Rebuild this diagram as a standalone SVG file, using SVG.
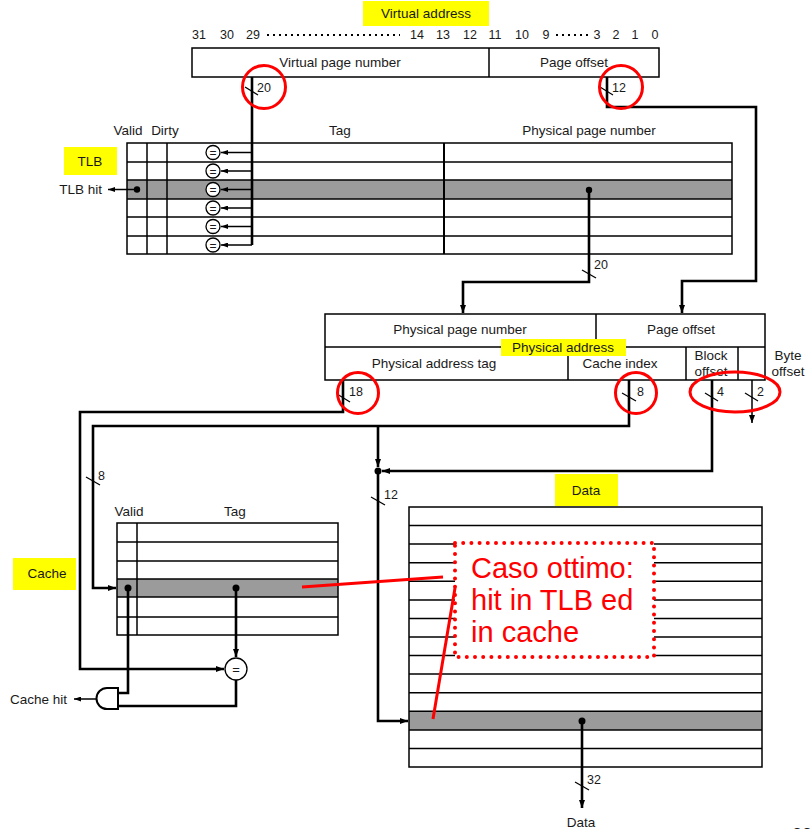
<svg xmlns="http://www.w3.org/2000/svg" width="810" height="829" viewBox="0 0 810 829">
<style>
text{font-family:"Liberation Sans",Arial,sans-serif;fill:#1a1a1a;font-size:13.5px}
.m{text-anchor:middle}
.e{text-anchor:end}
.n{font-size:12.5px}
.t{fill:none;stroke:#000;stroke-width:1.5}
.tb{fill:none;stroke:#000;stroke-width:2}
.w{fill:none;stroke:#000;stroke-width:2.6}
.wt{fill:none;stroke:#000;stroke-width:1.5}
.sl{stroke:#000;stroke-width:1.3}
.gray{fill:#9b9b9b}
.yl{fill:#ffff00}
.rc{fill:none;stroke:#ff0000;stroke-width:3}
.eq{fill:#fff;stroke:#000;stroke-width:1.3}
.red{fill:#ff0000;font-size:29px}
</style>
<defs>
<marker id="ah" viewBox="0 0 8 6" refX="8" refY="3" markerWidth="8" markerHeight="6" markerUnits="userSpaceOnUse" orient="auto"><path d="M0,0 L8,3 L0,6 z" fill="#000"/></marker>
<marker id="as" viewBox="0 0 7 5" refX="7" refY="2.5" markerWidth="7" markerHeight="5" markerUnits="userSpaceOnUse" orient="auto"><path d="M0,0 L7,2.5 L0,5 z" fill="#000"/></marker>
</defs>
<rect width="810" height="829" fill="#fff"/>

<g id="virtual-address">
<rect class="yl" x="363" y="1" width="126" height="25"/>
<text class="m" x="426" y="18">Virtual address</text>
<g class="n">
<text class="m n" x="199" y="39">31</text>
<text class="m n" x="227" y="39">30</text>
<text class="m n" x="253" y="39">29</text>
<text class="m n" x="417" y="39">14</text>
<text class="m n" x="443" y="39">13</text>
<text class="m n" x="470" y="39">12</text>
<text class="m n" x="495" y="39">11</text>
<text class="m n" x="522" y="39">10</text>
<text class="m n" x="546" y="39">9</text>
<text class="m n" x="597" y="39">3</text>
<text class="m n" x="616" y="39">2</text>
<text class="m n" x="635" y="39">1</text>
<text class="m n" x="655" y="39">0</text>
</g>
<line x1="267" y1="35" x2="400" y2="35" stroke="#000" stroke-width="2" stroke-dasharray="2 4"/>
<line x1="556" y1="35" x2="588" y2="35" stroke="#000" stroke-width="2" stroke-dasharray="2 4"/>
<rect class="t" x="192" y="48" width="467" height="29"/>
<line class="t" x1="489" y1="48" x2="489" y2="77"/>
<text class="m" x="340" y="67">Virtual page number</text>
<text class="m" x="574" y="67">Page offset</text>
</g>

<g id="tlb">
<rect class="gray" x="127" y="180" width="605" height="19"/>
<rect class="t" x="127" y="143" width="605" height="111"/>
<line class="t" x1="127" y1="162" x2="732" y2="162"/>
<line class="t" x1="127" y1="180" x2="732" y2="180"/>
<line class="t" x1="127" y1="199" x2="732" y2="199"/>
<line class="t" x1="127" y1="217" x2="732" y2="217"/>
<line class="t" x1="127" y1="236" x2="732" y2="236"/>
<line class="t" x1="147" y1="143" x2="147" y2="254"/>
<line class="t" x1="167" y1="143" x2="167" y2="254"/>
<line class="tb" x1="444" y1="143" x2="444" y2="254"/>
<text class="m" x="128" y="135">Valid</text>
<text class="m" x="165" y="135">Dirty</text>
<text class="m" x="340" y="135">Tag</text>
<text class="m" x="589" y="135">Physical page number</text>
<rect class="yl" x="64" y="147" width="53" height="28"/>
<text class="m" x="90" y="166">TLB</text>
<text class="e" x="102" y="194">TLB hit</text>
<g id="tlb-comparators">
<circle class="eq" cx="213" cy="152.5" r="7"/><text class="m" x="213" y="157" style="font-size:12px">=</text>
<circle class="eq" cx="213" cy="171" r="7"/><text class="m" x="213" y="175.5" style="font-size:12px">=</text>
<circle class="eq" cx="213" cy="189.5" r="7"/><text class="m" x="213" y="194" style="font-size:12px">=</text>
<circle class="eq" cx="213" cy="208" r="7"/><text class="m" x="213" y="212.5" style="font-size:12px">=</text>
<circle class="eq" cx="213" cy="226.5" r="7"/><text class="m" x="213" y="231" style="font-size:12px">=</text>
<circle class="eq" cx="213" cy="245" r="7"/><text class="m" x="213" y="249.5" style="font-size:12px">=</text>
</g>
<circle cx="137" cy="189.5" r="3.2" fill="#000"/>
<circle cx="589" cy="190" r="3.2" fill="#000"/>
</g>

<g id="physical-address">
<rect class="t" x="325" y="314" width="440" height="66"/>
<line class="t" x1="325" y1="347" x2="765" y2="347"/>
<line class="t" x1="596" y1="314" x2="596" y2="347"/>
<line class="t" x1="568" y1="347" x2="568" y2="380"/>
<line class="t" x1="686" y1="347" x2="686" y2="380"/>
<line class="t" x1="738" y1="347" x2="738" y2="380"/>
<text class="m" x="460" y="334">Physical page number</text>
<text class="m" x="681" y="334">Page offset</text>
<text class="m" x="434" y="368">Physical address tag</text>
<text class="m" x="620" y="368">Cache index</text>
<text class="m" x="711" y="360">Block</text>
<text class="m" x="711" y="376">offset</text>
<text class="m" x="788" y="360">Byte</text>
<text class="m" x="788" y="376">offset</text>
<rect class="yl" x="501" y="339" width="125" height="17"/>
<text class="m" x="563" y="352">Physical address</text>
</g>

<g id="cache">
<rect class="gray" x="117" y="579" width="221" height="18"/>
<rect class="t" x="117" y="523" width="221" height="112"/>
<line class="t" x1="117" y1="542" x2="338" y2="542"/>
<line class="t" x1="117" y1="561" x2="338" y2="561"/>
<line class="t" x1="117" y1="579" x2="338" y2="579"/>
<line class="t" x1="117" y1="597" x2="338" y2="597"/>
<line class="t" x1="117" y1="617" x2="338" y2="617"/>
<line class="t" x1="137" y1="523" x2="137" y2="635"/>
<text class="m" x="129" y="516">Valid</text>
<text class="m" x="235" y="516">Tag</text>
<rect class="yl" x="13" y="558" width="63" height="32"/>
<text class="m" x="47" y="578">Cache</text>
<circle cx="128" cy="588" r="3.5" fill="#000"/>
<circle cx="236" cy="588" r="3.5" fill="#000"/>
</g>

<g id="cache-comparator">
<circle cx="236" cy="669" r="11" fill="#fff" stroke="#000" stroke-width="1.3"/>
<text class="m" x="236" y="674" style="font-size:13px">=</text>
</g>

<g id="and-gate">
<path d="M118,688 L107,688 A10.5,10.5 0 0 0 107,709 L118,709 Z" fill="#fff" stroke="#000" stroke-width="2"/>
<text class="e" x="67" y="704">Cache hit</text>
</g>

<g id="data">
<rect class="gray" x="409" y="711.3" width="353" height="18.6"/>
<rect class="t" x="409" y="507" width="353" height="260"/>
<g class="t">
<line x1="409" y1="525.6" x2="762" y2="525.6"/>
<line x1="409" y1="544.1" x2="762" y2="544.1"/>
<line x1="409" y1="562.7" x2="762" y2="562.7"/>
<line x1="409" y1="581.3" x2="762" y2="581.3"/>
<line x1="409" y1="599.9" x2="762" y2="599.9"/>
<line x1="409" y1="618.4" x2="762" y2="618.4"/>
<line x1="409" y1="637" x2="762" y2="637"/>
<line x1="409" y1="655.6" x2="762" y2="655.6"/>
<line x1="409" y1="674.1" x2="762" y2="674.1"/>
<line x1="409" y1="692.7" x2="762" y2="692.7"/>
<line x1="409" y1="711.3" x2="762" y2="711.3"/>
<line x1="409" y1="729.9" x2="762" y2="729.9"/>
<line x1="409" y1="748.4" x2="762" y2="748.4"/>
</g>
<rect class="yl" x="555" y="474" width="63" height="32"/>
<text class="m" x="586" y="495">Data</text>
<circle cx="582" cy="721" r="3.5" fill="#000"/>
<text class="m" x="581" y="827">Data</text>
</g>

<g id="connectors">
<path class="w" d="M252,77 V245"/>
<g class="wt" marker-end="url(#as)">
<path d="M252,152.5 H221"/>
<path d="M252,171 H221"/>
<path d="M252,189.5 H221"/>
<path d="M252,208 H221"/>
<path d="M252,226.5 H221"/>
<path d="M252,245 H221"/>
</g>
<path class="wt" d="M137,189.5 H108" marker-end="url(#as)"/>
<path class="w" d="M607,77 V107 H756 V281 H682 V313" marker-end="url(#ah)"/>
<path class="w" d="M589,190 V282 H463 V313" marker-end="url(#ah)"/>
<path class="w" d="M343,380 V412 H80 V669 H224" marker-end="url(#ah)"/>
<path class="w" d="M629,380 V426 H93 V588 H116" marker-end="url(#ah)"/>
<path class="w" d="M378,426 V467" marker-end="url(#ah)"/>
<circle cx="378" cy="471" r="3.5" fill="#000"/>
<path class="w" d="M378,471 V721 H408" marker-end="url(#ah)"/>
<path class="w" d="M712,380 V471 H382" marker-end="url(#ah)"/>
<path class="wt" d="M752,380 V423" marker-end="url(#ah)"/>
<path class="w" d="M128,588 V693 H118"/>
<path class="w" d="M236,588 V657" marker-end="url(#ah)"/>
<path class="w" d="M236,680 V706 H118"/>
<path class="wt" d="M96,699 H74" marker-end="url(#as)"/>
<path class="w" d="M582,721 V808" marker-end="url(#ah)"/>
</g>

<g id="bus-widths">
<line class="sl" x1="245" y1="87" x2="258" y2="95"/><text class="n" x="257" y="92">20</text>
<line class="sl" x1="600" y1="87" x2="613" y2="95"/><text class="n" x="612" y="92">12</text>
<line class="sl" x1="582" y1="270" x2="596" y2="278"/><text class="n" x="594" y="269">20</text>
<line class="sl" x1="337" y1="394" x2="350" y2="402"/><text class="n" x="349" y="396">18</text>
<line class="sl" x1="622" y1="393" x2="636" y2="401"/><text class="n" x="637" y="396">8</text>
<line class="sl" x1="705" y1="393" x2="718" y2="401"/><text class="n" x="717" y="396">4</text>
<line class="sl" x1="745" y1="393" x2="758" y2="401"/><text class="n" x="757" y="396">2</text>
<line class="sl" x1="86" y1="477" x2="100" y2="485"/><text class="n" x="98" y="480">8</text>
<line class="sl" x1="371" y1="497" x2="385" y2="505"/><text class="n" x="384" y="499">12</text>
<line class="sl" x1="575" y1="782" x2="589" y2="790"/><text class="n" x="587" y="784">32</text>
</g>

<g id="highlights">
<circle class="rc" cx="264" cy="87" r="21.5"/>
<circle class="rc" cx="621" cy="87" r="21.5"/>
<circle class="rc" cx="358" cy="393" r="20.5"/>
<circle class="rc" cx="636" cy="393" r="20.5"/>
<ellipse class="rc" cx="735" cy="392" rx="45" ry="20"/>
</g>

<g id="annotation">
<rect x="455" y="543" width="199" height="114" fill="#fff" stroke="#ff0000" stroke-width="4" stroke-dasharray="0 8.2" stroke-linecap="round"/>
<text class="red" x="471" y="578">Caso ottimo:</text>
<text class="red" x="471" y="610">hit in TLB ed</text>
<text class="red" x="471" y="642">in cache</text>
<line x1="302" y1="587" x2="443" y2="577" stroke="#ff0000" stroke-width="3"/>
<line x1="455" y1="588" x2="433" y2="719" stroke="#ff0000" stroke-width="3"/>
</g>

<text x="792" y="841" style="font-size:18px">23</text>
</svg>
